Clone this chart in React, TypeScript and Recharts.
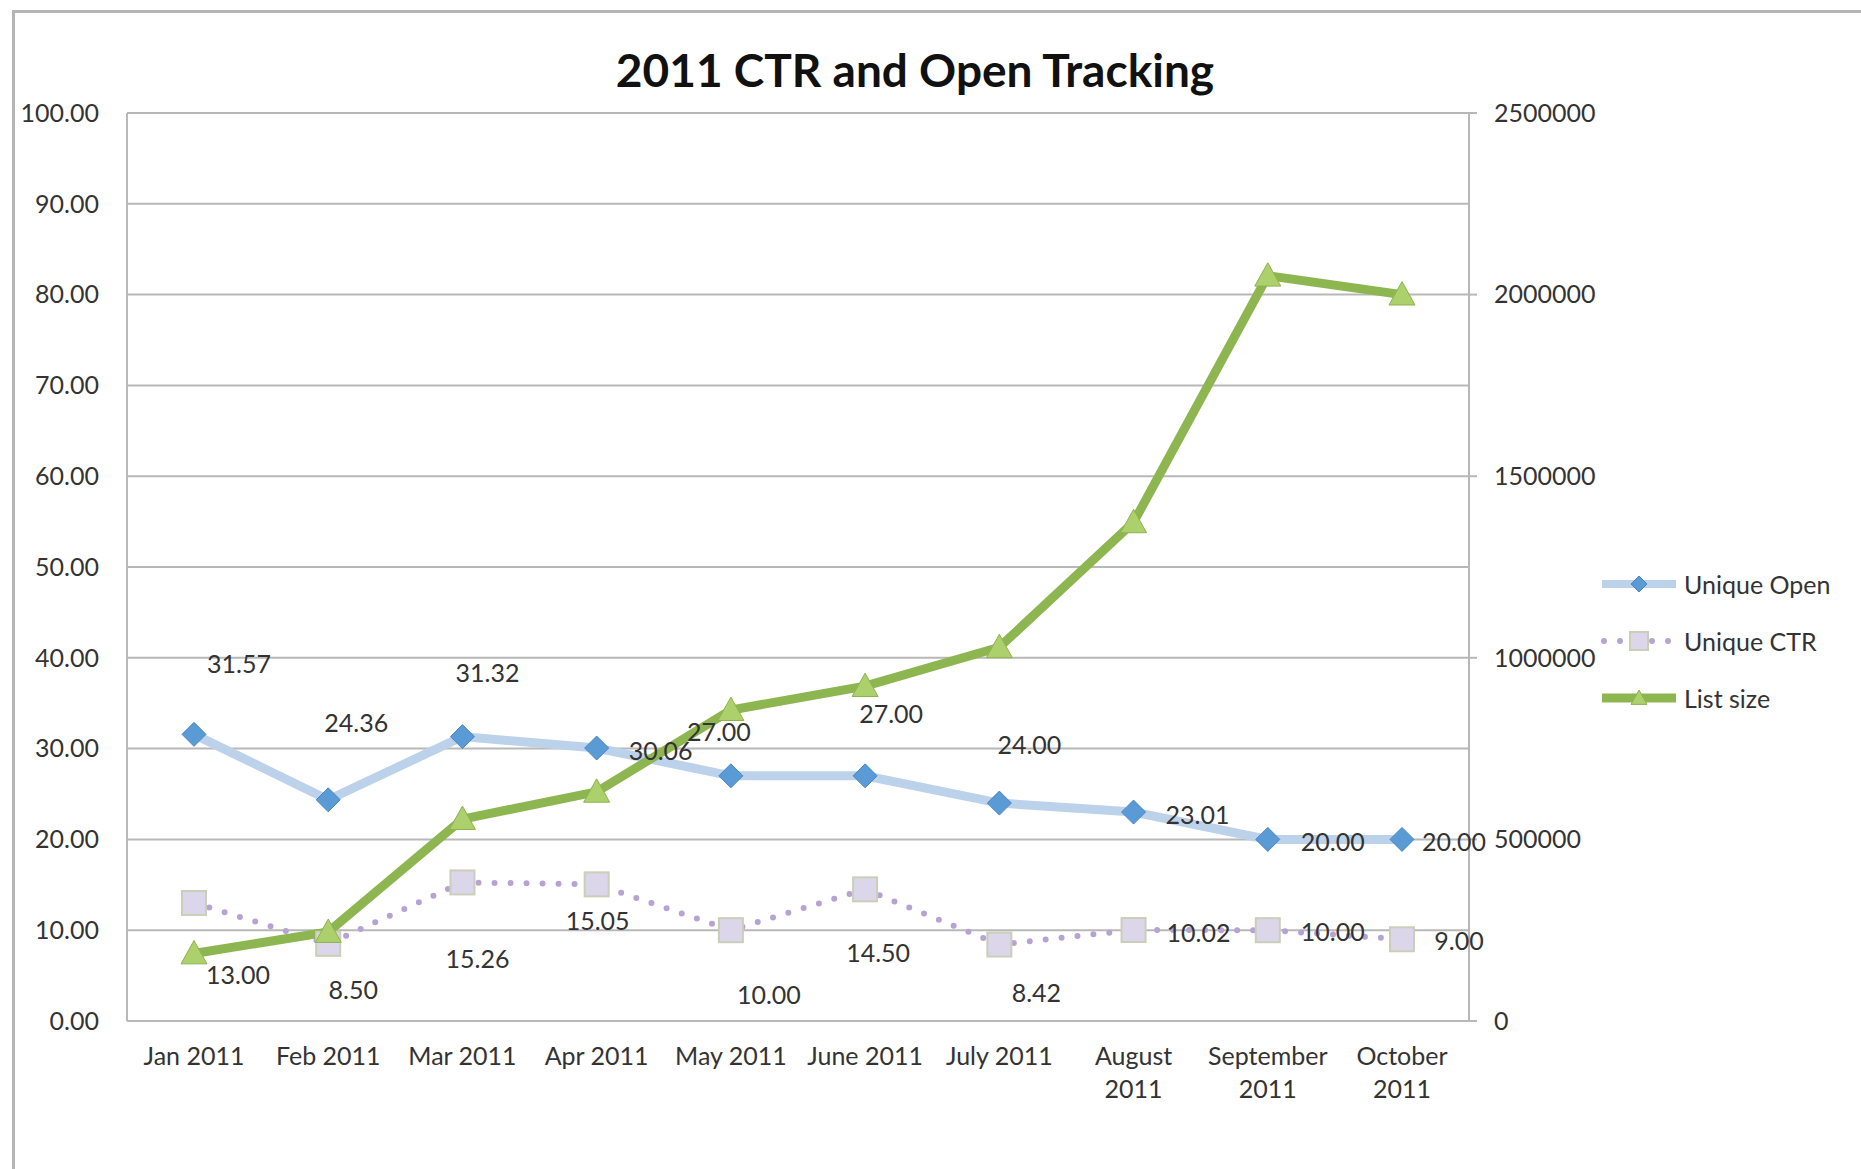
import React from 'react';
import { ComposedChart, Line, XAxis, YAxis, CartesianGrid, Legend, LabelList } from 'recharts';

const months = ['Jan 2011', 'Feb 2011', 'Mar 2011', 'Apr 2011', 'May 2011', 'June 2011', 'July 2011', 'August 2011', 'September 2011', 'October 2011'];
const uniqueOpen = [31.57, 24.36, 31.32, 30.06, 27.0, 27.0, 24.0, 23.01, 20.0, 20.0];
const uniqueCtr = [13.0, 8.5, 15.26, 15.05, 10.0, 14.5, 8.42, 10.02, 10.0, 9.0];
const listSize = [186000, 245000, 556000, 631000, 856000, 922000, 1029000, 1373000, 2052000, 2000000];
const leftTicks = [0, 10, 20, 30, 40, 50, 60, 70, 80, 90, 100];
const rightTicks = [0, 500000, 1000000, 1500000, 2000000, 2500000];

const data = months.map((month, i) => ({
  month,
  open: uniqueOpen[i],
  ctr: uniqueCtr[i],
  list: listSize[i],
}));

// where Excel dropped the data labels, relative to each point
const openLabelOffset = [[45, -71], [28, -78], [25, -65], [64, 2], [-12, -45], [26, -63], [30, -59], [64, 2], [65, 2], [52, 2]];
const ctrLabelOffset = [[44, 71], [25, 45], [15, 76], [1, 36], [38, 64], [13, 63], [37, 47], [65, 2], [65, 1], [57, 1]];

const FONT = 'Lato, "Open Sans", sans-serif';
const FS = 25;
const TEXT = '#333';
const OPEN_LINE = '#bcd2ea';
const OPEN_MARK = '#5b9bd5';
const CTR_LINE = '#b7a3d3';
const CTR_MARK = '#dcd6ea';
const LIST_LINE = '#8db651';
const LIST_MARK = '#acd06c';

const Diamond = ({ cx, cy, s = 12 }: any) =>
  cx == null ? null : (
    <polygon points={`${cx},${cy - s} ${cx + s},${cy} ${cx},${cy + s} ${cx - s},${cy}`} fill={OPEN_MARK} stroke="#4a86c5" strokeWidth={1} />
  );

const Square = ({ cx, cy, s = 12 }: any) =>
  cx == null ? null : (
    <rect x={cx - s} y={cy - s} width={s * 2} height={s * 2} fill={CTR_MARK} stroke="#c9cfb8" strokeWidth={2} />
  );

const Triangle = ({ cx, cy, s = 13 }: any) =>
  cx == null ? null : (
    <polygon points={`${cx},${cy - s} ${cx + s},${cy + s * 0.8} ${cx - s},${cy + s * 0.8}`} fill={LIST_MARK} stroke="#8fb24d" strokeWidth={1} />
  );

const makeLabel = (offsets: number[][]) => (props: any) => {
  const { x, y, index, value } = props;
  const [dx, dy] = offsets[index] || [0, 0];
  return (
    <text x={x + dx} y={y + dy} textAnchor="middle" dominantBaseline="central" fontSize={FS} fontFamily={FONT} fill={TEXT}>
      {Number(value).toFixed(2)}
    </text>
  );
};

const XTick = ({ x, y, payload }: any) => {
  const label: string = payload.value;
  const lines = label.length > 9 ? label.split(' ') : [label];
  return (
    <text x={x} y={y} textAnchor="middle" fontSize={FS} fontFamily={FONT} fill={TEXT}>
      {lines.map((l, i) => (
        <tspan key={i} x={x} dy={i === 0 ? '0.8em' : 33}>
          {l}
        </tspan>
      ))}
    </text>
  );
};

const legendItems = [
  { name: 'Unique Open', kind: 'open' },
  { name: 'Unique CTR', kind: 'ctr' },
  { name: 'List size', kind: 'list' },
];

const LegendContent = () => (
  <div style={{ fontFamily: FONT, fontSize: FS, color: TEXT }}>
    {legendItems.map((it) => (
      <div key={it.name} style={{ display: 'flex', alignItems: 'center', height: 57 }}>
        <svg width={80} height={30}>
          {it.kind === 'open' && (
            <>
              <line x1={2} y1={15} x2={76} y2={15} stroke={OPEN_LINE} strokeWidth={8} />
              <Diamond cx={39} cy={15} s={8} />
            </>
          )}
          {it.kind === 'ctr' && (
            <>
              <line x1={4} y1={15} x2={76} y2={15} stroke={CTR_LINE} strokeWidth={6} strokeDasharray="0 16" strokeLinecap="round" />
              <Square cx={39} cy={15} s={9} />
            </>
          )}
          {it.kind === 'list' && (
            <>
              <line x1={2} y1={15} x2={76} y2={15} stroke={LIST_LINE} strokeWidth={9} />
              <Triangle cx={39} cy={15} s={8} />
            </>
          )}
        </svg>
        <span style={{ marginLeft: 4 }}>{it.name}</span>
      </div>
    ))}
  </div>
);

export default function App() {
  return (
    <div style={{ position: 'absolute', left: 0, top: 0, width: 1861, height: 1169, background: '#fff', overflow: 'hidden' }}>
      <div
        style={{
          position: 'absolute',
          left: 12,
          top: 10,
          right: 0,
          bottom: 0,
          borderLeft: '3px solid #b5b5b5',
          borderTop: '3px solid #b5b5b5',
        }}
      />
      <div
        style={{
          position: 'absolute',
          left: 0,
          top: 47,
          width: 1830,
          textAlign: 'center',
          fontFamily: FONT,
          fontWeight: 700,
          fontSize: 46,
          lineHeight: '46px',
          color: '#111',
        }}
      >
        2011 CTR and Open Tracking
      </div>
      <ComposedChart width={1861} height={1169} data={data} margin={{ top: 113, right: 242, bottom: 88, left: 27 }}>
        <CartesianGrid vertical={false} stroke="#b8b8b8" strokeWidth={2} yAxisId="left" />
        <XAxis
          dataKey="month"
          height={60}
          padding={{ left: 67, right: 67 }}
          stroke="#b8b8b8"
          strokeWidth={2}
          tickLine={false}
          tickSize={0}
          tickMargin={24}
          tick={<XTick />}
          interval={0}
        />
        <YAxis
          yAxisId="left"
          width={100}
          domain={[0, 100]}
          ticks={leftTicks}
          tickFormatter={(v: number) => v.toFixed(2)}
          stroke="#b8b8b8"
          strokeWidth={2}
          tickLine={false}
          tickSize={0}
          tickMargin={28}
          tick={{ fontSize: FS, fontFamily: FONT, fill: TEXT }}
        />
        <YAxis
          yAxisId="right"
          orientation="right"
          width={150}
          domain={[0, 2500000]}
          ticks={rightTicks}
          stroke="#b8b8b8"
          strokeWidth={2}
          tickSize={8}
          tickMargin={17}
          tick={{ fontSize: FS, fontFamily: FONT, fill: TEXT, textAnchor: 'start' }}
        />
        <Legend
          layout="horizontal"
          verticalAlign="middle"
          align="center"
          content={<LegendContent />}
          wrapperStyle={{ left: 1600, top: 555, width: 260 }}
        />
        <Line
          yAxisId="left"
          dataKey="open"
          name="Unique Open"
          stroke={OPEN_LINE}
          strokeWidth={9}
          dot={<Diamond />}
          activeDot={false}
          isAnimationActive={false}
        >
          <LabelList dataKey="open" content={makeLabel(openLabelOffset)} />
        </Line>
        <Line
          yAxisId="left"
          dataKey="ctr"
          name="Unique CTR"
          stroke={CTR_LINE}
          strokeWidth={6}
          strokeDasharray="0 16"
          strokeLinecap="round"
          dot={<Square />}
          activeDot={false}
          isAnimationActive={false}
        >
          <LabelList dataKey="ctr" content={makeLabel(ctrLabelOffset)} />
        </Line>
        <Line
          yAxisId="right"
          dataKey="list"
          name="List size"
          stroke={LIST_LINE}
          strokeWidth={9}
          dot={<Triangle />}
          activeDot={false}
          isAnimationActive={false}
        />
      </ComposedChart>
    </div>
  );
}
